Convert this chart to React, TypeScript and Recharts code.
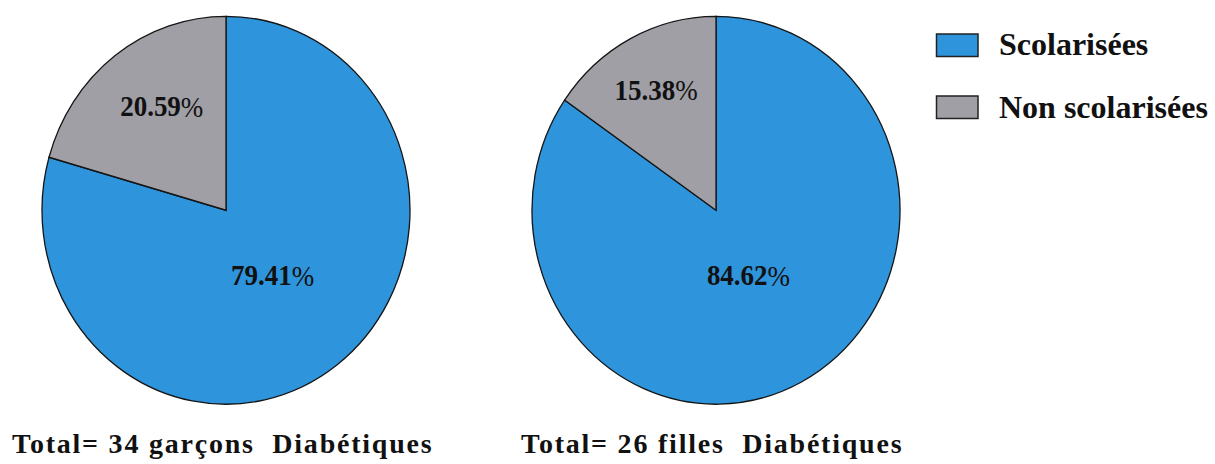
import { PieChart, Pie, Cell } from "recharts";

// categories and percentages per group
const categories = ["Scolarisées", "Non scolarisées"];
const garconsPct = [79.41, 20.59];
const fillesPct = [84.62, 15.38];
const groupTitles = ["Total= 34 garçons  Diabétiques", "Total= 26 filles  Diabétiques"];

const COLORS = ["#2E94DC", "#A09FA5"];
const SERIF = "Liberation Serif";
const Y_STRETCH = 1.054;

// radial position of each slice label, as a share of the outer radius,
// plus a small angular nudge (degrees) off the slice's mid angle
const labelRadius = [
  [0.42, 0.64],
  [0.38, 0.7],
];
const labelNudge = [
  [0, -4],
  [0, 0],
];

const makeLabel = (pieIndex: number) => (props: any) => {
  const { cx, cy, midAngle, outerRadius, value, index } = props;
  const r = outerRadius * labelRadius[pieIndex][index];
  const rad = (Math.PI / 180) * (midAngle + labelNudge[pieIndex][index]);
  const x = cx + r * Math.cos(rad);
  const y = cy - r * Math.sin(rad);
  return (
    <text
      x={x}
      y={y}
      textAnchor="middle"
      dominantBaseline="central"
      style={{ fontFamily: SERIF, fontSize: 27, fontWeight: "bold" }}
      fill="#111"
    >
      {Number(value).toFixed(2)}
      <tspan fontWeight="normal">%</tspan>
    </text>
  );
};

const groups = [garconsPct, fillesPct].map((vals) =>
  categories.map((name, i) => ({ name, value: vals[i] }))
);
const centersX = [226, 716];
const titleX = [12, 521];

const textStyle = (size: number, spacing: number) => ({
  fontFamily: SERIF,
  fontWeight: "bold" as const,
  fontSize: size,
  letterSpacing: spacing,
  whiteSpace: "pre" as const,
});

export default function App() {
  return (
    <div
      style={{
        position: "absolute",
        left: 0,
        top: 0,
        width: 1215,
        height: 464,
        background: "#fff",
        overflow: "hidden",
      }}
    >
      <div style={{ transform: `scaleY(${Y_STRETCH})`, transformOrigin: "0 0" }}>
        <PieChart width={1215} height={420} margin={{ top: 0, right: 0, bottom: 0, left: 0 }}>
          {groups.map((data, g) => (
            <Pie
              key={g}
              data={data}
              dataKey="value"
              nameKey="name"
              cx={centersX[g]}
              cy={199.5}
              outerRadius={184}
              startAngle={90}
              endAngle={-270}
              stroke="#151515"
              strokeWidth={1.3}
              label={makeLabel(g)}
              labelLine={false}
              isAnimationActive={false}
            >
              {data.map((d, i) => (
                <Cell key={d.name} fill={COLORS[i]} />
              ))}
            </Pie>
          ))}
        </PieChart>
      </div>

      <svg width={1215} height={464} style={{ position: "absolute", left: 0, top: 0 }}>
        {categories.map((name, i) => (
          <g key={name}>
            <rect
              x={936.5}
              y={34 + i * 62}
              width={41.5}
              height={22.5}
              fill={COLORS[i]}
              stroke="#222"
              strokeWidth={1.5}
            />
            <text x={999} y={54.5 + i * 63} fill="#111" style={textStyle(32, 0)}>
              {name}
            </text>
          </g>
        ))}
        {groupTitles.map((t, g) => (
          <text key={t} x={titleX[g]} y={453} fill="#111" style={textStyle(28, 1.78)}>
            {t}
          </text>
        ))}
      </svg>
    </div>
  );
}
